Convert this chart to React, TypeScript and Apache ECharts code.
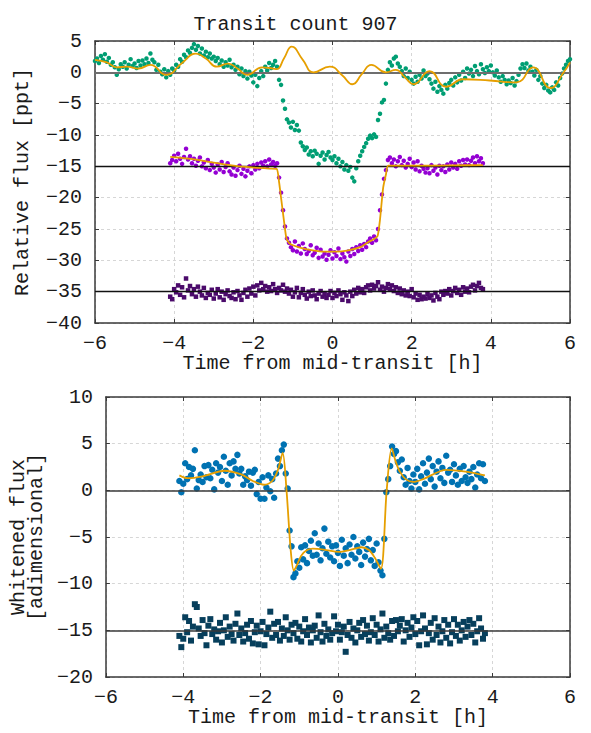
import React, { useEffect, useRef } from "react";
import * as echarts from "echarts";

// Time grid (hours from mid-transit) for the in-window light curves
const T = [
  -4.1, -4.05, -4, -3.95, -3.9, -3.85, -3.8, -3.75, -3.7, -3.65,
  -3.6, -3.55, -3.5, -3.45, -3.4, -3.35, -3.3, -3.25, -3.2, -3.15,
  -3.1, -3.05, -3, -2.95, -2.9, -2.85, -2.8, -2.75, -2.7, -2.65,
  -2.6, -2.55, -2.5, -2.45, -2.4, -2.35, -2.3, -2.25, -2.2, -2.15,
  -2.1, -2.05, -2, -1.95, -1.9, -1.85, -1.8, -1.75, -1.7, -1.65,
  -1.6, -1.55, -1.5, -1.45, -1.4, -1.35, -1.3, -1.25, -1.2, -1.15,
  -1.1, -1.05, -1, -0.95, -0.9, -0.85, -0.8, -0.75, -0.7, -0.65,
  -0.6, -0.55, -0.5, -0.45, -0.4, -0.35, -0.3, -0.25, -0.2, -0.15,
  -0.1, -0.05, 0, 0.05, 0.1, 0.15, 0.2, 0.25, 0.3, 0.35,
  0.4, 0.45, 0.5, 0.55, 0.6, 0.65, 0.7, 0.75, 0.8, 0.85,
  0.9, 0.95, 1, 1.05, 1.1, 1.15, 1.2, 1.25, 1.3, 1.35,
  1.4, 1.45, 1.5, 1.55, 1.6, 1.65, 1.7, 1.75, 1.8, 1.85,
  1.9, 1.95, 2, 2.05, 2.1, 2.15, 2.2, 2.25, 2.3, 2.35,
  2.4, 2.45, 2.5, 2.55, 2.6, 2.65, 2.7, 2.75, 2.8, 2.85,
  2.9, 2.95, 3, 3.05, 3.1, 3.15, 3.2, 3.25, 3.3, 3.35,
  3.4, 3.45, 3.5, 3.55, 3.6, 3.65, 3.7, 3.75, 3.8,
];

// Detrended flux, offset -15 ppt (purple)
const PURPLE = [
  -14.5, -14.0, -13.3, -14.2, -13.0, -13.8, -14.6, -13.5, -12.2, -13.9,
  -13.4, -14.5, -13.8, -14.9, -14.1, -13.6, -15.0, -14.4, -15.3, -14.0,
  -15.6, -14.6, -15.2, -16.0, -14.7, -15.5, -14.3, -15.9, -15.1, -14.5,
  -15.8, -16.3, -15.2, -16.5, -15.6, -14.9, -16.2, -15.4, -16.6, -15.7,
  -15.0, -16.1, -14.8, -15.5, -14.6, -15.3, -14.4, -14.9, -14.2, -15.0,
  -13.9, -14.7, -14.3, -14.9, -14.5, -16.8, -19.2, -22.0, -24.6, -26.5,
  -27.2, -27.9, -28.4, -27.0, -28.6, -27.7, -28.9, -27.3, -28.2, -29.0,
  -28.5, -27.6, -29.2, -28.8, -28.0, -29.6, -28.3, -29.4, -28.9, -29.9,
  -29.1, -28.4, -29.7, -28.7, -29.3, -28.1, -29.8, -28.9, -29.5, -30.2,
  -28.6, -29.3, -28.2, -29.0, -27.9, -28.5, -27.6, -28.3, -27.4, -27.9,
  -27.0, -26.5, -27.2, -26.2, -26.8, -25.0, -22.0, -19.5, -17.0, -15.6,
  -14.0, -13.6, -14.5, -13.9, -15.0, -14.2, -13.5, -14.8, -14.1, -15.2,
  -14.6, -13.8, -15.1, -14.4, -15.5, -14.2, -15.8, -14.9, -15.4, -16.0,
  -15.3, -16.1, -14.8, -15.7, -15.2, -16.3, -14.9, -15.6, -15.0, -15.9,
  -14.7, -15.5, -14.4, -15.2, -14.6, -15.4, -14.2, -14.9, -14.0, -14.7,
  -13.9, -14.8, -14.1, -13.6, -14.5, -13.4, -14.2, -13.7, -14.5,
];

// Residuals, offset -35 ppt (dark purple)
const RES_TOP = [
  -35.8, -36.2, -34.6, -35.1, -34.0, -35.5, -34.3, -35.9, -32.9, -34.8,
  -34.1, -35.4, -34.6, -35.8, -34.2, -35.0, -35.6, -34.4, -36.0, -35.2,
  -35.5, -34.7, -36.1, -35.3, -34.6, -35.9, -35.0, -36.3, -35.4, -34.8,
  -35.7, -36.0, -35.1, -36.2, -34.9, -35.6, -36.3, -35.2, -34.7, -35.8,
  -34.5, -35.3, -34.2, -35.6, -34.0, -34.8, -33.6, -34.6, -34.1, -35.0,
  -34.3, -34.9, -33.8, -34.6, -35.2, -34.4, -34.8, -33.9, -35.0, -34.5,
  -35.3, -34.7, -35.8, -35.1, -34.4, -35.9, -35.2, -34.6, -35.5, -36.1,
  -35.0, -35.7, -34.8, -35.6, -36.2, -35.3, -34.9, -35.8, -35.4, -36.0,
  -35.5, -34.9, -36.0, -35.2, -35.7, -34.8, -35.4, -36.3, -35.1, -35.6,
  -36.5, -35.0, -35.7, -34.7, -35.3, -34.4, -35.1, -34.6, -35.2, -34.3,
  -34.0, -34.8, -33.9, -34.5, -34.1, -33.5, -34.7, -34.2, -35.0, -34.4,
  -33.8, -34.6, -34.0, -34.9, -34.3, -35.2, -34.5, -35.4, -34.8, -35.6,
  -35.0, -35.7, -34.6, -35.9, -35.3, -36.3, -35.5, -36.2, -35.8, -36.1,
  -35.4, -36.0, -35.6, -36.4, -35.2, -35.8, -36.2, -35.0, -35.5, -34.9,
  -35.3, -34.6, -35.6, -34.9, -34.4, -35.2, -34.7, -35.5, -34.3, -35.0,
  -34.5, -35.1, -34.2, -33.9, -34.8, -34.1, -33.6, -34.4, -34.6,
];

// Whitened flux (blue)
const BLUE = [
  1.0, -0.2, 0.7, 2.9, 1.2, 2.5, 1.6, 2.3, 4.3, 0.2,
  1.1, 1.7, 0.9, 2.6, 1.4, 2.7, 1.3, 2.2, 0.1, 2.9,
  1.9, 2.5, 1.0, 3.6, 2.1, 0.6, 2.9, 1.6, 3.1, 2.3,
  3.8, 1.8, 2.3, 0.6, 1.5, 1.1, 2.0, 0.5, 1.9, 2.2,
  -0.4, 0.9, -0.9, 1.4, -0.9, 0.3, 1.6, -0.1, 1.2, -0.8,
  1.8, 3.4, 2.6, 4.3, 4.9, 1.8, 0.2, -4.3, -6.0, -9.3,
  -8.9, -7.6, -8.3, -6.1, -7.4, -5.9, -7.8, -6.5, -5.4, -7.0,
  -4.6, -6.9, -5.7, -7.5, -6.2, -4.1, -6.8, -5.5, -7.2, -6.0,
  -7.6, -5.9, -6.7, -8.1, -5.3, -7.0, -6.2, -7.8, -5.8, -6.9,
  -5.0, -7.3, -6.0, -6.6, -8.0, -5.6, -7.1, -6.3, -5.2, -7.5,
  -6.4, -8.1, -5.7, -7.7, -8.6, -9.1, -5.2, -0.2, 1.2, 2.6,
  4.7, 3.9, 4.2, 3.0, 2.1, 3.3, 1.4, 0.6, 2.4, 1.0,
  0.2, 1.7, 0.9, 2.3, 0.1, 1.5, 2.9, 0.7, 1.9, 3.4,
  1.2, 2.6, 0.4, 2.0, 3.1, 1.3, 2.4, 0.8, 3.7, 1.9,
  2.2, 0.9, 2.8, 1.6, 0.6, 2.3, 1.0, 2.6, 1.4, 0.8,
  2.0, 1.2, 2.5, 0.3, 1.7, 2.9, 1.3, 2.8, 1.0,
];

// Whitened residuals, offset -15 (navy)
const RES_BOT = [
  -15.6, -16.8, -15.9, -13.6, -15.2, -14.0, -16.1, -14.6, -12.2, -12.5,
  -14.8, -15.6, -13.9, -15.3, -16.6, -14.5, -13.8, -15.4, -14.9, -16.0,
  -15.1, -14.2, -16.3, -15.0, -13.6, -15.7, -14.6, -15.4, -16.1, -14.3,
  -13.2, -15.5, -14.8, -16.2, -15.3, -14.4, -15.9, -14.0, -16.4, -15.2,
  -14.5, -16.5, -15.1, -14.1, -16.6, -15.4, -14.7, -13.0, -15.8, -14.3,
  -15.5, -14.1, -16.1, -14.8, -15.6, -13.6, -15.0, -16.0, -14.4, -15.3,
  -14.2, -15.9, -14.6, -16.2, -15.1, -13.8, -15.5, -14.7, -16.3, -15.0,
  -14.5, -15.8, -13.4, -15.2, -16.2, -14.3, -15.6, -14.9, -16.0, -15.3,
  -13.5, -15.1, -14.4, -16.0, -15.2, -14.6, -17.3, -15.5, -14.1, -15.8,
  -14.8, -16.3, -15.0, -14.2, -15.7, -13.9, -15.4, -14.5, -16.1, -15.2,
  -13.7, -15.5, -14.4, -16.2, -14.9, -13.2, -15.8, -14.6, -15.3, -16.0,
  -14.0, -15.6, -13.9, -15.1, -14.5, -13.8, -16.2, -15.0, -14.2, -15.7,
  -14.7, -13.6, -15.4, -14.0, -16.6, -15.1, -13.4, -14.8, -16.5, -15.3,
  -14.2, -16.0, -13.7, -15.5, -14.6, -16.3, -15.1, -13.9, -15.8, -14.4,
  -16.4, -15.2, -13.8, -15.6, -14.4, -16.1, -15.0, -14.1, -15.7, -14.6,
  -13.9, -15.5, -14.3, -16.3, -15.1, -13.7, -14.8, -15.9, -15.3,
];

// Full-window time grid and raw relative flux (green)
const TG = [
  -6, -5.95, -5.9, -5.85, -5.8, -5.75, -5.7, -5.65, -5.6, -5.55,
  -5.5, -5.45, -5.4, -5.35, -5.3, -5.25, -5.2, -5.15, -5.1, -5.05,
  -5, -4.95, -4.9, -4.85, -4.8, -4.75, -4.7, -4.65, -4.6, -4.55,
  -4.5, -4.45, -4.4, -4.35, -4.3, -4.25, -4.2, -4.15, -4.1, -4.05,
  -4, -3.95, -3.9, -3.85, -3.8, -3.75, -3.7, -3.65, -3.6, -3.55,
  -3.5, -3.45, -3.4, -3.35, -3.3, -3.25, -3.2, -3.15, -3.1, -3.05,
  -3, -2.95, -2.9, -2.85, -2.8, -2.75, -2.7, -2.65, -2.6, -2.55,
  -2.5, -2.45, -2.4, -2.35, -2.3, -2.25, -2.2, -2.15, -2.1, -2.05,
  -2, -1.95, -1.9, -1.85, -1.8, -1.75, -1.7, -1.65, -1.6, -1.55,
  -1.5, -1.45, -1.4, -1.35, -1.3, -1.25, -1.2, -1.15, -1.1, -1.05,
  -1, -0.95, -0.9, -0.85, -0.8, -0.75, -0.7, -0.65, -0.6, -0.55,
  -0.5, -0.45, -0.4, -0.35, -0.3, -0.25, -0.2, -0.15, -0.1, -0.05,
  0, 0.05, 0.1, 0.15, 0.2, 0.25, 0.3, 0.35, 0.4, 0.45,
  0.5, 0.55, 0.6, 0.65, 0.7, 0.75, 0.8, 0.85, 0.9, 0.95,
  1, 1.05, 1.1, 1.15, 1.2, 1.25, 1.3, 1.35, 1.4, 1.45,
  1.5, 1.55, 1.6, 1.65, 1.7, 1.75, 1.8, 1.85, 1.9, 1.95,
  2, 2.05, 2.1, 2.15, 2.2, 2.25, 2.3, 2.35, 2.4, 2.45,
  2.5, 2.55, 2.6, 2.65, 2.7, 2.75, 2.8, 2.85, 2.9, 2.95,
  3, 3.05, 3.1, 3.15, 3.2, 3.25, 3.3, 3.35, 3.4, 3.45,
  3.5, 3.55, 3.6, 3.65, 3.7, 3.75, 3.8, 3.85, 3.9, 3.95,
  4, 4.05, 4.1, 4.15, 4.2, 4.25, 4.3, 4.35, 4.4, 4.45,
  4.5, 4.55, 4.6, 4.65, 4.7, 4.75, 4.8, 4.85, 4.9, 4.95,
  5, 5.05, 5.1, 5.15, 5.2, 5.25, 5.3, 5.35, 5.4, 5.45,
  5.5, 5.55, 5.6, 5.65, 5.7, 5.75, 5.8, 5.85, 5.9, 5.95,
  6,
];
const GREEN = [
  1.8, 2.2, 1.5, 2.6, 2.0, 2.9, 1.7, 2.3, 1.2, 1.6,
  0.8, -0.4, 0.5, 1.3, 0.9, 1.6, 0.6, 1.2, 2.1, 1.0,
  1.4, 0.7, 1.8, 1.1, 1.9, 1.3, 2.2, 1.5, 3.0, 2.0,
  1.6, 0.4, 1.2, 0.1, -0.3, 0.5, -0.8, 0.2, -0.4, 0.6,
  0.3, 1.2, 0.9, 2.1, 1.7, 2.8, 2.4, 3.5, 3.1, 3.9,
  4.5, 3.6, 4.2, 3.0, 3.8, 2.7, 3.3, 2.4, 3.0, 2.2,
  2.5, 1.8, 2.3, 1.3, 1.9, 0.9, 1.6, 1.1, 2.0, 0.8,
  1.2, 0.4, 0.9, -0.3, 0.6, -0.6, 0.2, -1.0, 0.1, -0.5,
  -1.6, -0.4, -2.2, -0.9, 0.2, -0.6, 0.9, 0.3, 1.5, 0.7,
  1.2, 1.8, 0.9, -1.2, -2.0, -4.5, -5.8, -7.5, -8.0, -8.8,
  -7.9, -9.2, -8.4, -9.3, -11.2, -11.8, -12.4, -12.0, -13.1, -12.6,
  -13.4, -12.5, -13.0, -14.6, -13.3, -12.8, -13.9, -13.2, -12.7, -13.6,
  -14.0, -13.4, -14.5, -13.8, -15.0, -14.3, -15.5, -14.8, -15.7, -15.1,
  -16.8, -17.4, -15.3, -14.2, -13.3, -12.6, -11.9, -11.3, -10.6, -10.1,
  -10.5, -9.9, -10.3, -7.6, -6.6, -4.8, -4.4, -1.8, 0.4, 1.6,
  1.1, 2.2, 2.5, 1.4, 0.9, 0.2, -0.6, 0.6, -0.9, 0.1,
  -1.2, -1.8, -0.7, -1.5, -0.4, -1.0, 0.3, -0.6, -0.2, -1.1,
  -1.8, -2.6, -1.5, -3.1, -2.2, -2.8, -3.4, -2.0, -2.6, -1.7,
  -1.2, -2.1, -0.8, -1.6, -0.4, -1.3, 0.1, -0.9, 0.6, -0.2,
  0.4, -0.6, 1.0, 0.2, -0.3, 1.3, 0.5, -0.1, 0.8, 0.2,
  1.1, 0.0, -0.5, 0.3, -0.8, -1.5, -0.6, -1.2, -1.9, -1.3,
  -1.7, -0.9, -2.1, -1.4, -0.4, 0.6, 1.3, 0.7, 1.4, 0.3,
  0.9, 0.1, -0.5, 0.4, -1.2, -0.6, -1.8, -2.5, -2.0, -2.9,
  -3.2, -2.4, -2.8, -1.6, -2.1, -0.9, -0.2, 0.6, 1.2, 1.8,
  2.1,
];

// Orange model curves (read at knots)
const TGM = [-6, -5.7, -5.45, -5.2, -4.9, -4.6, -4.2, -3.8, -3.45, -3.2, -2.92, -2.64, -2.4, -2.15, -1.78, -1.5, -1.41, -1.22, -1.03, -0.75, -0.48, -0.07, 0.25, 0.5, 0.75, 0.98, 1.35, 1.6, 1.83, 2.05, 2.45, 2.87, 3.3, 3.97, 4.65, 5.07, 5.5, 5.85, 6];
const GM = [2.0, 1.6, 0.8, 0.9, 0.6, 1.2, -0.4, 1.5, 3.0, 2.2, 0.9, 1.4, 0.6, -0.4, 0.8, 0.6, 0.5, 2.3, 4.1, 2.0, 0.0, 0.9, -0.5, -1.9, -0.2, 1.2, 0.0, 0.4, -0.8, -1.9, 0.2, -2.3, -1.1, -1.3, -1.6, 0.8, -2.5, 0.1, 1.6];

const TPM = [-4.1, -3.5, -3, -2.5, -2, -1.6, -1.41, -1.35, -1.3, -1.25, -1.2, -1.16, -1.1, -1, -0.8, -0.5, -0.2, 0.1, 0.4, 0.7, 0.9, 1.05, 1.14, 1.2, 1.28, 1.35, 1.41, 2, 3, 3.8];
const PM = [-13.5, -13.9, -14.4, -14.9, -15.2, -15.35, -15.4, -17.5, -20, -22.5, -25, -26.6, -27.2, -27.6, -28.0, -28.4, -28.6, -28.6, -28.4, -27.9, -27.1, -26.6, -26.1, -23.5, -18.4, -16.3, -14.9, -14.9, -14.85, -14.8];

const TBM = [-4.1, -3.9, -3.5, -2.93, -2.5, -2.2, -1.91, -1.7, -1.55, -1.43, -1.33, -1.22, -1.14, -1.05, -0.95, -0.8, -0.65, -0.3, 0.02, 0.3, 0.61, 0.8, 0.95, 1.11, 1.26, 1.39, 1.5, 1.6, 1.75, 1.95, 2.2, 2.8, 3.3, 3.8];
const BM = [1.6, 1.3, 1.5, 2.1, 1.7, 1.0, 0.6, 1.0, 2.2, 4.0, 0.0, -6.5, -8.6, -7.9, -7.0, -6.4, -6.25, -6.4, -6.6, -6.4, -6.1, -6.4, -7.2, -8.4, 0.0, 4.5, 3.0, 2.0, 1.2, 0.9, 1.2, 2.2, 2.0, 1.6];

const REF_TOP = [0, -15, -35];
const REF_BOT = [0, -15];

const FONT = "'Liberation Mono', 'DejaVu Sans Mono', monospace";
const TEXT = "#1a1a1a";
const FRAME = "#3a3a3a";
const ORANGE = "#e69f00";

const zip = (xs: number[], ys: number[]) => xs.map((x, i) => [x, ys[i]]);
const minus = (v: number) => String(v).replace("-", "\u2212");

export default function App() {
  const ref = useRef<HTMLDivElement>(null);
  useEffect(() => {
    const chart = echarts.init(ref.current!, null, { renderer: "svg" });
    const labelStyle = { fontFamily: FONT, fontSize: 20, color: TEXT };
    const frameLine = { show: true, onZero: false, lineStyle: { color: FRAME, width: 1.5 } };
    const tick = { show: true, inside: true, length: 4, lineStyle: { color: FRAME, width: 1 } };
    const split = { show: true, lineStyle: { color: "#d6d6d6", type: [3, 3], width: 1 } };

    const xMain = (gridIndex: number) => ({
      type: "value",
      gridIndex,
      min: -6,
      max: 6,
      interval: 2,
      position: "bottom",
      name: "Time from mid-transit [h]",
      nameLocation: "middle",
      nameGap: 30,
      nameTextStyle: labelStyle,
      axisLabel: { ...labelStyle, margin: 10, formatter: minus },
      axisLine: frameLine,
      axisTick: tick,
      splitLine: split,
    });
    const xMirror = (gridIndex: number) => ({
      type: "value",
      gridIndex,
      min: -6,
      max: 6,
      interval: 2,
      position: "top",
      axisLabel: { show: false },
      axisLine: frameLine,
      axisTick: tick,
      splitLine: { show: false },
    });
    const yMain = (gridIndex: number, min: number, max: number, name: string, gap: number) => ({
      type: "value",
      gridIndex,
      min,
      max,
      interval: 5,
      position: "left",
      name,
      nameLocation: "middle",
      nameRotate: 90,
      nameGap: gap,
      nameTextStyle: { ...labelStyle, lineHeight: 18 },
      axisLabel: { ...labelStyle, margin: 13, formatter: minus },
      axisLine: frameLine,
      axisTick: tick,
      splitLine: split,
    });
    const yMirror = (gridIndex: number, min: number, max: number) => ({
      type: "value",
      gridIndex,
      min,
      max,
      interval: 5,
      position: "right",
      axisLabel: { show: false },
      axisLine: frameLine,
      axisTick: tick,
      splitLine: { show: false },
    });

    const refLines = (vals: number[], colors: string[], widths: number[]) => ({
      silent: true,
      symbol: "none",
      label: { show: false },
      animation: false,
      data: vals.map((v, i) => ({ yAxis: v, lineStyle: { color: colors[i], width: widths[i], type: "solid" } })),
    });

    chart.setOption({
      animation: false,
      backgroundColor: "#ffffff",
      title: {
        text: "Transit count 907",
        left: "center",
        top: 9,
        textStyle: { fontFamily: FONT, fontSize: 20, fontWeight: "normal", color: TEXT },
      },
      grid: [
        { left: 95, top: 41, width: 475, height: 282 },
        { left: 95, top: 397, width: 475, height: 280 },
      ],
      xAxis: [xMain(0), xMain(1), xMirror(0), xMirror(1)],
      yAxis: [
        yMain(0, -40, 5, "Relative flux [ppt]", 64),
        yMain(1, -20, 10, "Whitened flux\n[adimensional]", 48),
        yMirror(0, -40, 5),
        yMirror(1, -20, 10),
      ],
      series: [
        {
          type: "scatter",
          xAxisIndex: 0,
          yAxisIndex: 0,
          data: zip(TG, GREEN),
          symbol: "circle",
          symbolSize: 4.5,
          itemStyle: { color: "#009e73", opacity: 1 },
          markLine: refLines(REF_TOP, ["#6e6e6e", "#111111", "#111111"], [2, 1.3, 1.3]),
          z: 2,
        },
        {
          type: "scatter",
          xAxisIndex: 0,
          yAxisIndex: 0,
          data: zip(T, PURPLE),
          symbol: "circle",
          symbolSize: 4.5,
          itemStyle: { color: "#9400d3", opacity: 1 },
          z: 3,
        },
        {
          type: "scatter",
          xAxisIndex: 0,
          yAxisIndex: 0,
          data: zip(T, RES_TOP),
          symbol: "rect",
          symbolSize: 4.5,
          itemStyle: { color: "#4b0a6b", opacity: 1 },
          z: 3,
        },
        {
          type: "line",
          xAxisIndex: 0,
          yAxisIndex: 0,
          data: zip(TGM, GM),
          smooth: 0.5,
          showSymbol: false,
          lineStyle: { color: ORANGE, width: 1.8 },
          z: 5,
        },
        {
          type: "line",
          xAxisIndex: 0,
          yAxisIndex: 0,
          data: zip(TPM, PM),
          smooth: 0.2,
          showSymbol: false,
          lineStyle: { color: ORANGE, width: 1.8 },
          z: 5,
        },
        {
          type: "scatter",
          xAxisIndex: 1,
          yAxisIndex: 1,
          data: zip(T, BLUE),
          symbol: "circle",
          symbolSize: 6.5,
          itemStyle: { color: "#0072b2", opacity: 1 },
          markLine: refLines(REF_BOT, ["#3a3a3a", "#3a3a3a"], [1.6, 1.6]),
          z: 3,
        },
        {
          type: "scatter",
          xAxisIndex: 1,
          yAxisIndex: 1,
          data: zip(T, RES_BOT),
          symbol: "rect",
          symbolSize: 6,
          itemStyle: { color: "#073f5c", opacity: 1 },
          z: 3,
        },
        {
          type: "line",
          xAxisIndex: 1,
          yAxisIndex: 1,
          data: zip(TBM, BM),
          smooth: 0.3,
          showSymbol: false,
          lineStyle: { color: ORANGE, width: 1.8 },
          z: 5,
        },
      ],
    });
    return () => chart.dispose();
  }, []);
  return (
    <div
      ref={ref}
      style={{ position: "absolute", left: 0, top: 0, width: 591, height: 733, background: "#fff" }}
    />
  );
}
